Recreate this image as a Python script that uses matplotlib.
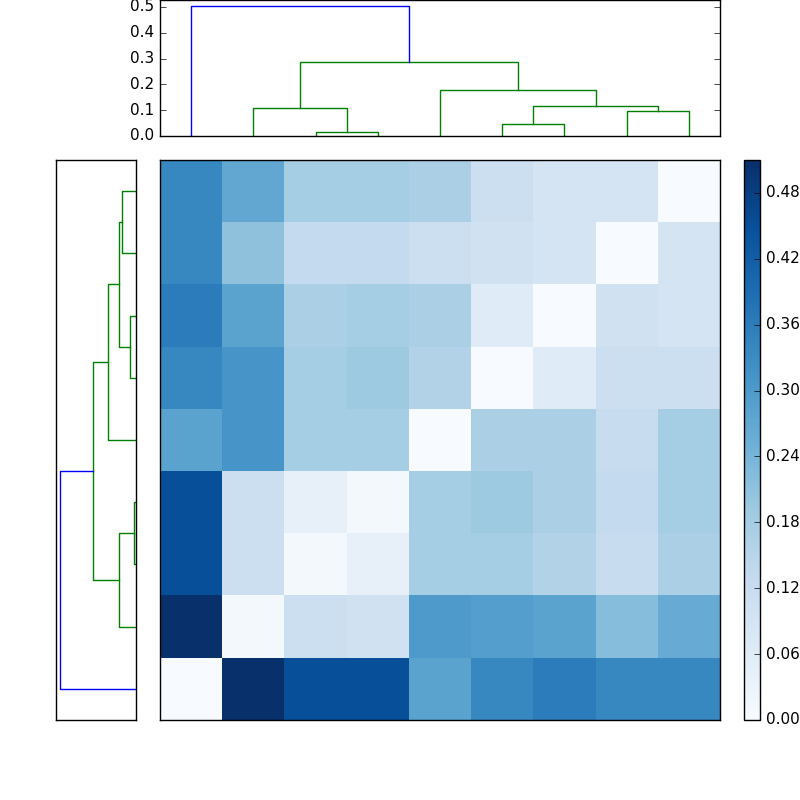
import numpy as np
import matplotlib
matplotlib.use("Agg")
import matplotlib.pyplot as plt

plt.style.use("classic")
plt.rcParams["font.size"] = 11

# distance matrix, rows top -> bottom
dist = np.array([
    [0.34, 0.27, 0.18, 0.18, 0.17, 0.11, 0.09, 0.09, 0.00],
    [0.34, 0.21, 0.13, 0.13, 0.11, 0.10, 0.09, 0.00, 0.09],
    [0.36, 0.28, 0.17, 0.18, 0.17, 0.06, 0.00, 0.10, 0.09],
    [0.34, 0.31, 0.18, 0.19, 0.16, 0.00, 0.06, 0.11, 0.11],
    [0.28, 0.31, 0.18, 0.18, 0.00, 0.17, 0.17, 0.12, 0.18],
    [0.45, 0.11, 0.04, 0.01, 0.18, 0.19, 0.17, 0.13, 0.18],
    [0.45, 0.11, 0.01, 0.04, 0.18, 0.18, 0.16, 0.12, 0.17],
    [0.51, 0.01, 0.11, 0.10, 0.30, 0.29, 0.28, 0.22, 0.26],
    [0.00, 0.51, 0.45, 0.45, 0.28, 0.34, 0.36, 0.34, 0.34],
])

# linkages: (left node, right node, height); leaves 0..8 by position, new nodes 9..
top_links = [(2, 3, 0.015), (5, 6, 0.045), (7, 8, 0.095), (1, 9, 0.11),
             (10, 11, 0.115), (4, 13, 0.18), (12, 14, 0.285), (0, 15, 0.505)]
left_links = [(2, 3, 0.04), (5, 6, 0.016), (0, 1, 0.093), (9, 11, 0.113),
              (10, 7, 0.113), (12, 4, 0.185), (13, 14, 0.285), (15, 8, 0.505)]


def dendro_segments(links, n):
    pos = {i: 5 + 10 * i for i in range(n)}
    hgt = {i: 0.0 for i in range(n)}
    segs = []
    for k, (a, b, h) in enumerate(links):
        node = n + k
        col = "b" if k == len(links) - 1 else "g"
        segs.append(([pos[a], pos[a], pos[b], pos[b]], [hgt[a], h, h, hgt[b]], col))
        pos[node] = (pos[a] + pos[b]) / 2
        hgt[node] = h
    return segs


fig = plt.figure(figsize=(8, 8), dpi=100, facecolor="white")

ax_top = fig.add_axes([0.2, 0.83, 0.7, 0.17])
for xs, ys, c in dendro_segments(top_links, 9):
    ax_top.plot(xs, ys, color=c, lw=1)
ax_top.set_xlim(0, 90)
ax_top.set_ylim(0, 0.527)
ax_top.set_xticks([])
ax_top.set_yticks([0.0, 0.1, 0.2, 0.3, 0.4, 0.5])

ax_left = fig.add_axes([0.07, 0.1, 0.1, 0.7])
for xs, ys, c in dendro_segments(left_links, 9):
    ax_left.plot(ys, xs, color=c, lw=1)
ax_left.set_xlim(0.53, 0)
ax_left.set_ylim(90, 0)
ax_left.set_xticks([])
ax_left.set_yticks([])

ax = fig.add_axes([0.2, 0.1, 0.7, 0.7])
im = ax.imshow(dist, cmap="Blues", aspect="auto", interpolation="nearest",
               vmin=0, vmax=0.51)
ax.set_xticks([])
ax.set_yticks([])

cax = fig.add_axes([0.93, 0.1, 0.02, 0.7])
cb = fig.colorbar(im, cax=cax, ticks=np.arange(0, 0.49, 0.06))
cb.ax.set_yticklabels(["%.2f" % t for t in np.arange(0, 0.49, 0.06)])

fig.savefig("out.png", dpi=100, facecolor="white")
